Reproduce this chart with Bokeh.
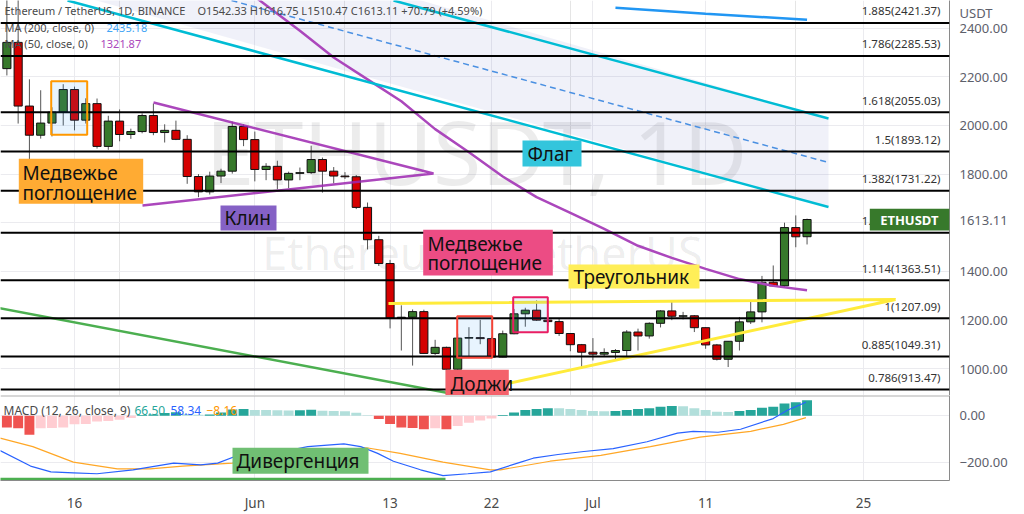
import pandas as pd
from bokeh.plotting import figure
from bokeh.models import (ColumnDataSource, Range1d, FixedTicker, PrintfTickFormatter,
                          BoxAnnotation, Label, Span, Grid)
from bokeh.layouts import column
from bokeh.core.properties import value
from bokeh.embed import file_html
from bokeh.resources import INLINE

FONT = "Noto Sans"

# ---------------- data ----------------
dates = pd.date_range("2022-05-10", "2022-07-20", freq="D")
opens = [2234, 2342, 2080, 1960, 2010, 2055, 2148, 2022, 2090, 1914, 2018, 1963, 1975, 2041, 1971, 1980,
         1943, 1790, 1727, 1792, 1812, 1996, 1942, 1819, 1832, 1776, 1803, 1806, 1860, 1812, 1792, 1789,
         1663, 1530, 1432, 1208, 1211, 1234, 1062, 1087, 997, 1125, 1127, 1123, 1047, 1143, 1225, 1240,
         1199, 1193, 1144, 1098, 1067, 1059, 1066, 1074, 1150, 1134, 1186, 1237, 1215, 1217, 1168, 1097,
         1038, 1112, 1192, 1233, 1355, 1340, 1580, 1542.33]
highs = [2530, 2530, 2190, 2145, 2075, 2170, 2160, 2112, 2111, 2040, 2066, 1987, 2050, 2090, 2005, 2020,
         1960, 1800, 1810, 1822, 2016, 2005, 1975, 1845, 1855, 1810, 1827, 1917, 1868, 1829, 1808, 1796,
         1683, 1546, 1447, 1260, 1243, 1242, 1118, 1090, 1143, 1170, 1200, 1131, 1156, 1245, 1250, 1280,
         1230, 1207, 1146, 1101, 1125, 1083, 1080, 1158, 1164, 1190, 1240, 1278, 1233, 1220, 1169, 1101,
         1113, 1212, 1282, 1381, 1424, 1600, 1630, 1616.75]
lows = [2206, 2008, 1700, 1946, 1955, 2000, 1980, 2008, 1905, 1900, 1935, 1945, 1968, 1960, 1930, 1940,
        1760, 1705, 1716, 1763, 1802, 1915, 1770, 1775, 1738, 1742, 1775, 1800, 1724, 1762, 1780, 1656,
        1490, 1422, 1165, 1074, 1012, 1060, 1056, 881, 972, 1043, 1100, 1043, 1046, 1141, 1172, 1196,
        1176, 1134, 1071, 998, 1033, 1048, 1037, 1050, 1074, 1123, 1169, 1199, 1202, 1150, 1081, 1033,
        1006, 1074, 1183, 1190, 1337, 1335, 1499, 1510.47]
closes = [2342, 2080, 1960, 2010, 2055, 2148, 2022, 2090, 1914, 2018, 1963, 1975, 2041, 1971, 1980, 1943,
          1790, 1727, 1792, 1812, 1996, 1942, 1819, 1832, 1776, 1803, 1806, 1860, 1812, 1792, 1789, 1663,
          1530, 1432, 1208, 1211, 1234, 1062, 1087, 997, 1125, 1127, 1123, 1047, 1143, 1225, 1240, 1199,
          1193, 1144, 1098, 1067, 1059, 1066, 1074, 1150, 1134, 1186, 1237, 1215, 1217, 1168, 1097, 1038,
          1112, 1192, 1233, 1355, 1340, 1580, 1542, 1613.11]

macd_hist = [-50, -54, -82, -54, -53, -51, -37, -35, -25, -23, -17, -10,
             3, 6, 12, 15, 8, 4, 6, 14, 27, 29,
             25, 24.5, 24, 23, 24, 26, 22, 21, 20, 13, 2,
             -14, -35, -50, -53, -58, -54, -58, -44, -30, -20, -12,
             3, 14, 25, 29, 33, 32, 29, 25, 21, 20, 21, 25, 29, 33, 39, 42, 41, 33, 25, 17,
             16, 21, 25, 35, 39, 53, 58, 66.5]
# MACD / signal lines read at points (day index, value)
macd_day = [9.4, 12.1, 13.9, 15.9, 18.0, 21.2, 24.8, 27.2, 28.7, 30.7, 34.5, 36.7, 39.9, 41.4, 42.9,
            44.3, 46.7, 48.7, 50.9, 52.9, 55.6, 56.7, 58.9, 61.2, 63.8, 66.8, 69.5, 70.9, 73.1, 75.1,
            78.0, 79.3, 80.9]
macd_val = [-150, -217, -242, -246, -250, -233, -204, -212, -204, -167, -154, -133, -121, -133, -162,
            -196, -233, -258, -250, -242, -200, -183, -167, -154, -142, -112, -75, -67, -71, -58,
            -12, 25, 58.34]
sig_day = [9.4, 12.3, 15.9, 19.8, 22.7, 25.6, 30.0, 34.5, 38.9, 41.9, 44.9, 48.7, 52.9, 53.8, 58.2,
           62.7, 67.1, 71.5, 76.0, 78.9, 80.9]
sig_val = [-96, -133, -200, -229, -229, -217, -204, -175, -150, -138, -162, -200, -233, -233, -196,
           -171, -133, -92, -67, -37, -8.16]

ma50_day = [30, 33, 36, 39, 42, 45, 48, 51, 54, 57, 60, 63, 66, 69, 72, 75, 78, 81]
ma50_val = [2600, 2495, 2390, 2280, 2190, 2100, 1985, 1890, 1790, 1705, 1640, 1575, 1505, 1455, 1410,
            1368, 1340, 1321.87]
ma200_day = [64, 72, 81]
ma200_val = [2485, 2460, 2435.18]

fib_ratio = ["1.885", "1.786", "1.618", "1.5", "1.382", "1.256", "1.114", "1", "0.885", "0.786"]
fib_price = [2421.37, 2285.53, 2055.03, 1893.12, 1731.22, 1558.39, 1363.51, 1207.09, 1049.31, 913.47]

x_tick_days = [16, 32, 44, 53, 62, 72, 86]
x_tick_text = ["16", "Jun", "13", "22", "Jul", "11", "25"]
price_ticks = [1000, 1200, 1400, 1613.11, 1800, 2000, 2200, 2400, 2465]
price_tick_text = {1613.11: "1613.11", 2465: "USDT"}
price_grid = [1000, 1200, 1400, 1600, 1800, 2000, 2200, 2400]

day = [(d - pd.Timestamp("2022-04-30")).days for d in dates]

# ---------------- geometry helpers (px of the 1024x514 view -> data) -------------
def dx(px):
    return 16 + (px - 74) / 11.27

def py(px):
    return 1000 + (368 - px) * 4.1152

def my(px):
    return (416 - px) / 0.24

X0, X1 = dx(0), dx(949)
GREEN = "#37792b"
RED = "#d50000"
AXC = "#5d606b"

p = figure(width=1024, height=395, x_range=Range1d(X0, X1), y_range=Range1d(py(395), py(0)),
           output_backend="svg", toolbar_location=None, y_axis_location="right",
           x_axis_location=None, min_border_left=0, min_border_top=0, min_border_bottom=0,
           min_border_right=75)
p.outline_line_color = None
p.background_fill_color = "white"
p.border_fill_color = "white"

yax = p.yaxis[0]
yax.ticker = FixedTicker(ticks=price_ticks)
yax.formatter = PrintfTickFormatter(format="%.2f")
yax.major_label_overrides = price_tick_text
yax.major_tick_line_color = None
yax.minor_tick_line_color = None
yax.major_label_standoff = 4
yax.major_label_text_font = FONT
yax.major_label_text_font_size = "13px"
yax.major_label_text_color = AXC
yax.axis_line_color = "#8a8a8a"
p.ygrid.ticker = FixedTicker(ticks=price_grid)
p.ygrid.grid_line_color = "#ebebef"
p.add_layout(Grid(dimension=0, ticker=FixedTicker(ticks=x_tick_days), grid_line_color="#ebebef"))

# watermark
p.text(x=[dx(476)], y=[py(150)], text=["ETHUSDT, 1D"], text_font=value(FONT),
       text_font_size="88px", text_color="#000000", text_alpha=0.075,
       text_align="center", text_baseline="middle")
p.text(x=[dx(482)], y=[py(252)], text=["Ethereum / TetherUS"], text_font=value(FONT),
       text_font_size="45px", text_color="#000000", text_alpha=0.075,
       text_align="center", text_baseline="middle")

# flag channel (parallel channel drawing)
low_a, low_b = (dx(67), py(0)), (dx(828), py(206.5))
up_a, up_b = (dx(393), py(0)), (dx(828), py(118))
mid_a, mid_b = (dx(231), py(0)), (dx(828), py(162))
p.patch(x=[low_a[0] - 2, up_a[0] - 2, up_b[0], low_b[0]],
        y=[low_a[1] + 60, up_a[1] + 60, up_b[1], low_b[1]],
        fill_color="#3f51b5", fill_alpha=0.08, line_color=None)

# candles
top = [max(o, c) for o, c in zip(opens, closes)]
bot = [min(o, c) for o, c in zip(opens, closes)]
col = [GREEN if c >= o else RED for o, c in zip(opens, closes)]
src = ColumnDataSource(dict(d=day, h=highs, l=lows, top=top, bot=bot, col=col))
p.segment(x0="d", y0="h", x1="d", y1="l", line_color="#555555", line_width=1, source=src)
p.vbar(x="d", width=0.72, top="top", bottom="bot", fill_color="col", line_color="#111111",
       line_width=1, source=src)

# moving averages
p.line(ma50_day, ma50_val, line_color="#ab47bc", line_width=2.5)
p.line(ma200_day, ma200_val, line_color="#2196f3", line_width=2.5)

# drawings
p.line([low_a[0], low_b[0]], [low_a[1], low_b[1]], line_color="#00bcd4", line_width=2.5)
p.line([up_a[0], up_b[0]], [up_a[1], up_b[1]], line_color="#00bcd4", line_width=2.5)
p.line([mid_a[0], mid_b[0]], [mid_a[1], mid_b[1]], line_color="#4a90e2", line_width=1.5,
       line_dash="6 4")
p.line([dx(153), dx(433), dx(142)], [py(102), py(173), py(205)], line_color="#9c27b0",
       line_alpha=0.85, line_width=2.5)
p.line([dx(388), dx(895), dx(457)], [py(303), py(299), py(394)], line_color="#ffeb3b",
       line_width=3)
p.line([dx(-10), dx(450)], [py(306), py(393)], line_color="#4caf50", line_width=2.5)

# fib levels
for fp in fib_price:
    p.add_layout(Span(location=fp, dimension="width", line_color="#000000", line_width=2))
fsrc = ColumnDataSource(dict(x=[dx(940)] * len(fib_price), y=[fp + 19 for fp in fib_price],
                             t=[f"{r}({v:.2f})" for r, v in zip(fib_ratio, fib_price)]))
p.text(x="x", y="y", text="t", source=fsrc, text_font=value(FONT), text_font_size="11.5px",
       text_color="#333333", text_align="right", text_baseline="bottom")

# pattern boxes
for (l, r, t, b, c) in [(dx(50.7), dx(86.7), py(80.7), py(134.3), "#ff9800"),
                        (dx(512.7), dx(547.3), py(296.7), py(331.7), "#e91e63"),
                        (dx(456.7), dx(491.7), py(315.7), py(357.3), "#f44336")]:
    p.add_layout(BoxAnnotation(left=l, right=r, top=t, bottom=b, fill_color="#2196f3",
                               fill_alpha=0.1, line_color=c, line_width=2, line_alpha=1))

def tag(fig, l, r, t, b, color, lines, xt, ys):
    fig.add_layout(BoxAnnotation(left=l, right=r, top=t, bottom=b, fill_color=color,
                                 fill_alpha=1, line_color=None))
    for txt_, yy in zip(lines, ys):
        fig.add_layout(Label(x=xt, y=yy, text=txt_, text_font=FONT, text_font_size="19px",
                             text_color="#111111", text_align="left", text_baseline="middle"))

tag(p, dx(18.3), dx(142.7), py(158.3), py(203.3), "#ffab33", ["Медвежье", "поглощение"],
    dx(22), [py(172), py(192)])
tag(p, dx(220), dx(276), py(205), py(230), "#8561c5", ["Клин"], dx(224), [py(217.5)])
tag(p, dx(422.7), dx(552.3), py(229.3), py(275), "#ec4c84", ["Медвежье", "поглощение"],
    dx(427), [py(243), py(262)])
tag(p, dx(522), dx(581), py(140), py(166), "#33c5dc", ["Флаг"], dx(527), [py(153)])
tag(p, dx(568), dx(699), py(264), py(288), "#ffee58", ["Треугольник"], dx(573), [py(276)])
tag(p, dx(445), dx(508.3), py(369.3), py(398), "#f4616b", ["Доджи"], dx(450), [py(383)])

# legend texts
def txt(fig, x, y, s, color, size="11px", bold=False, align="left"):
    fig.add_layout(Label(x=x, y=y, text=s, text_font=FONT, text_font_size=size, text_color=color,
                         text_align=align, text_baseline="middle",
                         text_font_style="bold" if bold else "normal"))

txt(p, dx(4), py(10), "Ethereum / TetherUS, 1D, BINANCE", "#4a4a4a")
txt(p, dx(197), py(10), "O1542.33  H1616.75  L1510.47  C1613.11  +70.79 (+4.59%)", "#4a4a4a")
txt(p, dx(4), py(27), "MA (200, close, 0)", "#4a4a4a")
txt(p, dx(106), py(27), "2435.18", "#42a5f5")
txt(p, dx(4), py(43), "MA (50, close, 0)", "#4a4a4a")
txt(p, dx(100), py(43), "1321.87", "#ab47bc")

# symbol tag inside the pane
p.add_layout(BoxAnnotation(left=dx(869.3), right=X1, top=py(208.3), bottom=py(230),
                           fill_color=GREEN, fill_alpha=1, line_color=None))
txt(p, dx(908.8), 1613.11, "ETHUSDT", "#ffffff", size="13px", bold=True, align="center")

# ---------------- MACD pane ----------------
m = figure(width=1024, height=119, x_range=p.x_range, y_range=Range1d(my(483), my(395)),
           output_backend="svg", toolbar_location=None, y_axis_location="right",
           min_border_left=0, min_border_top=0, min_border_bottom=31, min_border_right=75)
m.outline_line_color = None
m.background_fill_color = "white"
m.border_fill_color = "white"

myax = m.yaxis[0]
myax.ticker = FixedTicker(ticks=[-200, 0])
myax.major_label_overrides = {-200: "\u2212200.00", 0: "0.00"}
myax.major_tick_line_color = None
myax.minor_tick_line_color = None
myax.major_label_standoff = 4
myax.major_label_text_font = FONT
myax.major_label_text_font_size = "13px"
myax.major_label_text_color = AXC
myax.axis_line_color = "#8a8a8a"

mx = m.xaxis[0]
mx.ticker = FixedTicker(ticks=x_tick_days)
mx.major_label_overrides = {d: t for d, t in zip(x_tick_days, x_tick_text)}
mx.major_tick_line_color = None
mx.minor_tick_line_color = None
mx.major_label_standoff = 7
mx.major_label_text_font = FONT
mx.major_label_text_font_size = "13.5px"
mx.major_label_text_color = "#4a4a4a"
mx.axis_line_color = "#8a8a8a"
m.xgrid.grid_line_color = "#ebebef"
m.ygrid.grid_line_color = "#ebebef"

hcol = []
prev = None
for v in macd_hist:
    if v >= 0:
        hcol.append("#26a69a" if (prev is None or v >= prev) else "#b2dfdb")
    else:
        hcol.append("#ef5350" if (prev is None or v <= prev) else "#ffcdd2")
    prev = v
hsrc = ColumnDataSource(dict(d=day, v=macd_hist, c=hcol))
m.vbar(x="d", width=0.88, top="v", bottom=0, fill_color="c", line_color=None, source=hsrc)
m.line(sig_day, sig_val, line_color="#ffa726", line_width=1.2)
m.line(macd_day, macd_val, line_color="#2962ff", line_width=1.2)
m.line([dx(-10), dx(445)], [my(481.5), my(481.5)], line_color="#4caf50", line_width=2.5)

m.add_layout(Span(location=my(395), dimension="width", line_color="#b0b0b0", line_width=2))

tag(m, dx(232), dx(368), my(449), my(476), "#70bf73", ["Дивергенция"], dx(236), [my(462.5)])

txt(m, dx(3), my(411), "MACD (12, 26, close, 9)", "#4a4a4a", size="12px")
txt(m, dx(134), my(411), "66.50", "#26a69a", size="12px")
txt(m, dx(170), my(411), "58.34", "#2962ff", size="12px")
txt(m, dx(206), my(411), "\u22128.16", "#ff9800", size="12px")

layout = column(p, m, spacing=0)
open("out.html", "w").write(file_html(layout, INLINE))
